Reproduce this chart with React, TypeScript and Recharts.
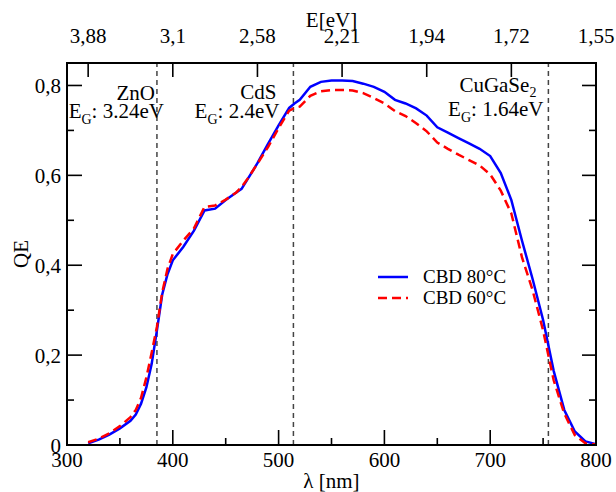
import { LineChart, Line, XAxis, YAxis, ReferenceLine, ReferenceArea } from 'recharts';

const FONT = '"Liberation Serif", "Times New Roman", serif';

// wavelength grid [nm] and QE of both CBD samples
const wavelength = [
  320, 330, 340, 350, 360, 365, 370, 375, 380, 385, 390, 395, 400, 410, 420, 430, 440, 450, 460, 465,
  470, 480, 490, 500, 510, 515, 520, 530, 540, 550, 560, 570, 580, 590, 600, 610, 620, 630, 640, 650,
  660, 670, 680, 690, 700, 710, 720, 730, 740, 750, 760, 770, 780, 790, 800,
];
const qe80 = [
  0.004, 0.012, 0.023, 0.037, 0.054, 0.068, 0.092, 0.128, 0.18, 0.255, 0.335, 0.38, 0.411, 0.441, 0.477, 0.522, 0.526, 0.545, 0.562, 0.57,
  0.589, 0.627, 0.67, 0.711, 0.75, 0.76, 0.768, 0.797, 0.808, 0.811, 0.811, 0.81, 0.804, 0.797, 0.786, 0.768, 0.76, 0.749, 0.733, 0.707,
  0.695, 0.683, 0.671, 0.659, 0.643, 0.605, 0.545, 0.455, 0.37, 0.278, 0.165, 0.078, 0.03, 0.008, 0.002,
];
const qe60 = [
  0.006, 0.014, 0.026, 0.042, 0.062, 0.078, 0.105, 0.15, 0.205, 0.263, 0.34, 0.392, 0.425, 0.455, 0.482, 0.53, 0.533, 0.546, 0.562, 0.574,
  0.59, 0.626, 0.663, 0.705, 0.744, 0.75, 0.753, 0.777, 0.787, 0.79, 0.79, 0.789, 0.783, 0.772, 0.76, 0.743, 0.732, 0.716, 0.698, 0.673,
  0.659, 0.646, 0.634, 0.622, 0.602, 0.566, 0.515, 0.418, 0.345, 0.255, 0.144, 0.07, 0.022, 0.004, 0.001,
];

const lambdaDomain = [300, 800];
const qeDomain = [0, 0.85];
const lambdaTicks = [300, 350, 400, 450, 500, 550, 600, 650, 700, 750, 800];
const qeTicks = [0, 0.1, 0.2, 0.3, 0.4, 0.5, 0.6, 0.7, 0.8];
const energyTicks = [320, 400, 480, 560, 640, 720, 800];
const energyLabels = ['3,88', '3,1', '2,58', '2,21', '1,94', '1,72', '1,55'];

// band gap positions [nm]
const gapNm = [385, 514, 755];
const gapMaterial = ['ZnO', 'CdS', 'CuGaSe'];
const gapEnergy = ['3.24eV', '2.4eV', '1.64eV'];

const seriesNames = ['CBD 80°C', 'CBD 60°C'];

const data = wavelength.map((nm, i) => ({ nm, qe80: qe80[i], qe60: qe60[i] }));

const series = [
  { key: 'qe80', name: seriesNames[0], color: '#0000ff', dash: undefined as string | undefined },
  { key: 'qe60', name: seriesNames[1], color: '#ff0000', dash: '9 5' },
];

const isMajor = (v: number, step: number) => Math.abs(Math.round(v / step) * step - v) < 1e-6;

function BottomTick(props: any) {
  const x = Number(props.x);
  const y = Number(props.y);
  const v = props.payload.value;
  const major = isMajor(v, 100);
  return (
    <g>
      <line x1={x} y1={y} x2={x} y2={y - (major ? 15 : 7)} stroke="#000" strokeWidth={1.6} />
      {major && (
        <text x={x} y={y + 22} textAnchor="middle" fontSize={21} fontFamily={FONT} fill="#000">
          {v}
        </text>
      )}
    </g>
  );
}

function TopTick(props: any) {
  const x = Number(props.x);
  const y = Number(props.y);
  const label = energyLabels[energyTicks.indexOf(props.payload.value)];
  return (
    <g>
      <line x1={x} y1={y} x2={x} y2={y + 14} stroke="#000" strokeWidth={1.6} />
      <text x={x} y={y - 20} textAnchor="middle" fontSize={21} fontFamily={FONT} fill="#000">
        {label}
      </text>
    </g>
  );
}

function LeftTick(props: any) {
  const x = Number(props.x);
  const y = Number(props.y);
  const v = props.payload.value;
  const major = isMajor(v, 0.2);
  const text = v === 0 ? '0' : v.toFixed(1).replace('.', ',');
  return (
    <g>
      <line x1={x} y1={y} x2={x + (major ? 15 : 7)} y2={y} stroke="#000" strokeWidth={1.6} />
      {major && (
        <text x={x - 6} y={y + 7.5} textAnchor="end" fontSize={21} fontFamily={FONT} fill="#000">
          {text}
        </text>
      )}
    </g>
  );
}

function RightTick(props: any) {
  const x = Number(props.x);
  const y = Number(props.y);
  const major = isMajor(props.payload.value, 0.2);
  return <line x1={x} y1={y} x2={x - (major ? 14 : 7)} y2={y} stroke="#000" strokeWidth={1.6} />;
}

function GapLabel({ viewBox, material, energy, sub, dxTop, dxBottom, yTop, yBottom }: any) {
  const lx = viewBox?.x ?? 0;
  return (
    <g fontFamily={FONT} fontSize={21} fill="#000">
      <text x={lx + dxTop} y={yTop} textAnchor="end">
        {material}
        {sub && (
          <tspan fontSize={14} dy={5}>
            {sub}
          </tspan>
        )}
      </text>
      <text x={lx + dxBottom} y={yBottom} textAnchor="end">
        E<tspan fontSize={14} dy={6}>G</tspan>
        <tspan dy={-6}>: {energy}</tspan>
      </text>
    </g>
  );
}

function BottomTitle({ viewBox }: any) {
  return (
    <text x={viewBox.x + viewBox.width / 2} y={viewBox.y + 43} textAnchor="middle" fontSize={21} fontFamily={FONT}>
      λ [nm]
    </text>
  );
}

function TopTitle({ viewBox }: any) {
  return (
    <text x={viewBox.x + viewBox.width / 2} y={viewBox.y - 6} textAnchor="middle" fontSize={21} fontFamily={FONT}>
      E[eV]
    </text>
  );
}

function LeftTitle({ viewBox }: any) {
  const cy = viewBox.y + viewBox.height / 2;
  return (
    <text x={28} y={cy} transform={`rotate(-90, 28, ${cy})`} textAnchor="middle" fontSize={21} fontFamily={FONT}>
      QE
    </text>
  );
}

// legend drawn inside the chart svg, in the free space right of the peak
function LegendBox() {
  return (
    <g transform="translate(378, 265)">
      {series.map((s, i) => (
        <g key={s.key}>
          <line x1={0} x2={30} y1={12 + i * 21} y2={12 + i * 21} stroke={s.color} strokeWidth={2.5} strokeDasharray={s.dash} />
          <text x={45} y={18 + i * 21} fontSize={19} fontFamily={FONT} fill="#000">
            {s.name}
          </text>
        </g>
      ))}
    </g>
  );
}

export default function App() {
  const labelPlacement = [
    { dxTop: -2, dxBottom: 7, yTop: 100, yBottom: 118 },
    { dxTop: -17, dxBottom: -14, yTop: 99, yBottom: 118 },
    { dxTop: -12, dxBottom: -5, yTop: 92, yBottom: 116 },
  ];
  return (
    <div style={{ position: 'absolute', left: 0, top: 0 }}>
      <LineChart width={616} height={492} data={data} margin={{ top: 33, right: 10, bottom: 17, left: 27 }}>
        <XAxis
          xAxisId="bottom"
          dataKey="nm"
          type="number"
          domain={lambdaDomain}
          ticks={lambdaTicks}
          interval={0}
          height={30}
          tickSize={0}
          tickMargin={0}
          tickLine={false}
          tick={<BottomTick />}
          axisLine={{ stroke: '#000', strokeWidth: 2 }}
          label={<BottomTitle />}
        />
        <XAxis
          xAxisId="top"
          orientation="top"
          dataKey="nm"
          type="number"
          domain={lambdaDomain}
          ticks={energyTicks}
          interval={0}
          height={30}
          tickSize={0}
          tickMargin={0}
          tickLine={false}
          tick={<TopTick />}
          axisLine={{ stroke: '#000', strokeWidth: 2 }}
          label={<TopTitle />}
        />
        <YAxis
          yAxisId="left"
          type="number"
          domain={qeDomain}
          ticks={qeTicks}
          interval={0}
          width={40}
          tickSize={0}
          tickMargin={0}
          tickLine={false}
          tick={<LeftTick />}
          axisLine={{ stroke: '#000', strokeWidth: 2 }}
          label={<LeftTitle />}
        />
        <YAxis
          yAxisId="right"
          orientation="right"
          type="number"
          domain={qeDomain}
          ticks={qeTicks}
          interval={0}
          width={10}
          tickSize={0}
          tickMargin={0}
          tickLine={false}
          tick={<RightTick />}
          axisLine={{ stroke: '#000', strokeWidth: 2 }}
        />
        <ReferenceArea
          xAxisId="bottom"
          yAxisId="left"
          x1={lambdaDomain[0]}
          x2={lambdaDomain[1]}
          y1={qeDomain[0]}
          y2={qeDomain[1]}
          fill="none"
          stroke="#000"
          strokeWidth={2}
        />
        {gapNm.map((nm, i) => (
          <ReferenceLine
            key={nm}
            x={nm}
            xAxisId="bottom"
            yAxisId="left"
            stroke="#444"
            strokeWidth={1.5}
            strokeDasharray="5 4"
            label={
              <GapLabel
                material={gapMaterial[i]}
                energy={gapEnergy[i]}
                sub={i === 2 ? '2' : undefined}
                {...labelPlacement[i]}
              />
            }
          />
        ))}
        {/* invisible series so the top / right frame axes get a scale */}
        <Line
          xAxisId="top"
          yAxisId="right"
          dataKey="qe80"
          stroke="none"
          dot={false}
          activeDot={false}
          legendType="none"
          isAnimationActive={false}
        />
        {series.map((s) => (
          <Line
            key={s.key}
            xAxisId="bottom"
            yAxisId="left"
            dataKey={s.key}
            name={s.name}
            type="linear"
            stroke={s.color}
            strokeWidth={2.5}
            strokeDasharray={s.dash}
            dot={false}
            activeDot={false}
            isAnimationActive={false}
          />
        ))}
        <LegendBox />
      </LineChart>
    </div>
  );
}
